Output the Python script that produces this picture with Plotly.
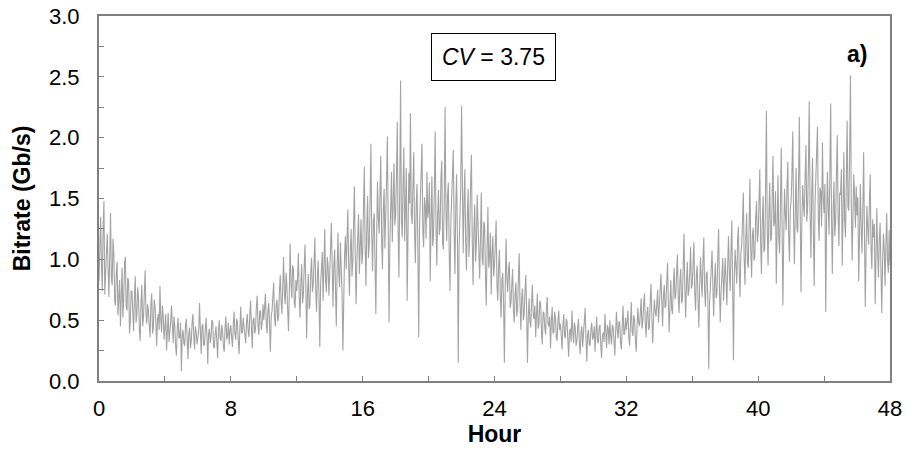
import plotly.graph_objects as go

step_hours = 0.05
bitrate = [
    0.82, 1.12, 1.35, 0.95, 0.74, 1.26, 1.48, 0.71, 0.88, 1.15, 1.21, 0.93, 0.69, 1.02, 1.38, 0.84, 0.79, 1.17, 1.05, 0.66,
    0.62, 0.89, 0.98, 0.54, 0.71, 0.83, 0.45, 0.77, 0.93, 0.52, 0.66, 0.97, 1.02, 0.61, 0.58, 0.85, 0.81, 0.39, 0.49, 0.74,
    0.74, 0.57, 0.41, 0.69, 0.86, 0.48, 0.55, 0.77, 0.68, 0.42, 0.33, 0.64, 0.79, 0.45, 0.52, 0.71, 0.91, 0.56, 0.47, 0.63,
    0.58, 0.46, 0.36, 0.63, 0.72, 0.39, 0.44, 0.67, 0.61, 0.48, 0.29, 0.51, 0.55, 0.42, 0.78, 0.50, 0.40, 0.62, 0.53, 0.34,
    0.47, 0.55, 0.25, 0.43, 0.56, 0.32, 0.38, 0.49, 0.62, 0.40, 0.31, 0.53, 0.45, 0.28, 0.21, 0.44, 0.52, 0.35, 0.36, 0.48,
    0.08, 0.37, 0.42, 0.31, 0.29, 0.46, 0.51, 0.34, 0.18, 0.39, 0.44, 0.27, 0.33, 0.48, 0.55, 0.36, 0.26, 0.45, 0.40, 0.30,
    0.35, 0.41, 0.64, 0.33, 0.22, 0.45, 0.47, 0.29, 0.30, 0.42, 0.52, 0.37, 0.14, 0.39, 0.43, 0.31, 0.36, 0.50, 0.49, 0.28,
    0.27, 0.39, 0.45, 0.32, 0.19, 0.41, 0.50, 0.35, 0.33, 0.46, 0.41, 0.28, 0.24, 0.44, 0.53, 0.34, 0.37, 0.48, 0.30, 0.42,
    0.46, 0.35, 0.28, 0.47, 0.57, 0.38, 0.34, 0.51, 0.49, 0.33, 0.22, 0.43, 0.61, 0.40, 0.39, 0.52, 0.45, 0.36, 0.31, 0.48,
    0.55, 0.41, 0.36, 0.54, 0.66, 0.44, 0.27, 0.50, 0.52, 0.39, 0.43, 0.61, 0.70, 0.46, 0.38, 0.57, 0.58, 0.42, 0.47, 0.63,
    0.50, 0.61, 0.72, 0.48, 0.39, 0.57, 0.64, 0.46, 0.24, 0.53, 0.58, 0.69, 0.81, 0.52, 0.45, 0.63, 0.67, 0.49, 0.53, 0.74,
    0.87, 0.66, 0.55, 0.78, 1.02, 0.71, 0.63, 0.89, 0.79, 0.58, 0.41, 0.74, 1.13, 0.80, 0.68, 0.95, 0.92, 0.64, 0.60, 0.83,
    0.74, 0.86, 1.05, 0.69, 0.52, 0.81, 0.96, 0.64, 0.70, 0.93, 1.12, 0.77, 0.35, 0.72, 0.88, 0.59, 0.62, 0.90, 1.01, 0.73,
    0.79, 0.97, 1.18, 0.75, 0.57, 0.86, 0.99, 0.68, 0.28, 0.80, 0.91, 1.06, 0.66, 0.89, 1.25, 0.82, 0.73, 1.02, 0.94, 0.70,
    0.84, 1.09, 1.30, 0.83, 0.61, 0.95, 1.08, 0.76, 0.45, 0.92, 1.22, 0.88, 0.77, 1.14, 0.98, 0.71, 0.25, 0.87, 1.03, 1.19,
    0.92, 1.16, 1.41, 0.94, 0.70, 1.07, 1.25, 0.86, 0.98, 1.29, 1.60, 1.02, 0.63, 0.99, 1.18, 1.37, 0.88, 1.11, 1.33, 0.96,
    1.05, 1.43, 1.76, 1.10, 0.78, 1.27, 1.52, 1.01, 1.12, 1.48, 1.95, 1.22, 0.90, 1.31, 1.38, 0.97, 0.55, 1.19, 1.64, 1.35,
    1.21, 1.54, 1.85, 1.16, 0.92, 1.40, 1.58, 1.09, 1.30, 1.66, 2.01, 1.25, 0.48, 1.13, 1.47, 1.72, 1.14, 1.39, 1.79, 1.28,
    1.36, 1.69, 2.13, 1.24, 0.85, 1.57, 2.47, 1.33, 1.18, 1.61, 1.92, 1.15, 1.42, 1.75, 0.66, 1.27, 1.71, 1.46, 2.20, 1.37,
    1.29, 1.60, 1.88, 1.21, 0.97, 1.45, 1.62, 1.08, 0.36, 1.26, 1.53, 1.80, 1.95, 1.23, 1.10, 1.51, 1.44, 1.17, 1.72, 1.34,
    1.40, 1.63, 0.82, 1.31, 1.68, 1.11, 1.19, 1.59, 2.05, 1.28, 0.95, 1.36, 1.57, 1.20, 1.26, 1.67, 1.81, 1.14, 1.08, 1.49,
    2.25, 1.41, 1.15, 1.52, 1.63, 1.06, 0.74, 1.30, 1.49, 1.77, 1.90, 1.22, 0.88, 1.44, 1.70, 1.18, 0.15, 1.09, 1.32, 1.58,
    2.26, 1.39, 1.05, 1.47, 1.74, 1.13, 0.91, 1.35, 1.58, 1.02, 1.21, 1.62, 1.86, 1.17, 0.79, 1.24, 1.45, 0.98, 1.12, 1.53,
    1.36, 1.07, 0.84, 1.25, 1.55, 1.01, 0.95, 1.31, 1.28, 0.88, 0.62, 1.10, 1.43, 0.93, 1.02, 1.22, 0.71, 1.05, 1.19, 0.86,
    0.95, 1.13, 1.32, 0.78, 0.66, 0.94, 1.08, 0.71, 0.52, 0.83, 0.89, 0.64, 0.15, 0.76, 1.17, 0.85, 0.73, 0.91, 0.98, 0.60,
    0.64, 0.79, 0.92, 0.57, 0.48, 0.72, 0.81, 0.53, 0.59, 0.84, 1.05, 0.63, 0.42, 0.68, 0.76, 0.50, 0.55, 0.74, 0.87, 0.58,
    0.15, 0.52, 0.68, 0.49, 0.44, 0.65, 0.79, 0.54, 0.51, 0.62, 0.36, 0.55, 0.72, 0.43, 0.47, 0.66, 0.63, 0.41, 0.30, 0.57,
    0.56, 0.44, 0.38, 0.59, 0.69, 0.47, 0.45, 0.53, 0.27, 0.49, 0.61, 0.39, 0.40, 0.57, 0.52, 0.36, 0.33, 0.50, 0.58, 0.42,
    0.47, 0.38, 0.26, 0.45, 0.55, 0.37, 0.35, 0.51, 0.49, 0.34, 0.20, 0.41, 0.43, 0.32, 0.58, 0.40, 0.31, 0.48, 0.44, 0.29,
    0.33, 0.44, 0.51, 0.31, 0.22, 0.40, 0.45, 0.28, 0.37, 0.49, 0.60, 0.35, 0.16, 0.38, 0.42, 0.30, 0.29, 0.43, 0.48, 0.34,
    0.36, 0.45, 0.24, 0.39, 0.53, 0.33, 0.31, 0.44, 0.46, 0.29, 0.19, 0.37, 0.40, 0.32, 0.55, 0.41, 0.27, 0.46, 0.43, 0.30,
    0.50, 0.37, 0.30, 0.46, 0.44, 0.33, 0.21, 0.40, 0.57, 0.42, 0.35, 0.49, 0.48, 0.31, 0.26, 0.45, 0.62, 0.38, 0.39, 0.52,
    0.42, 0.50, 0.58, 0.36, 0.29, 0.47, 0.65, 0.41, 0.37, 0.54, 0.51, 0.34, 0.24, 0.44, 0.60, 0.48, 0.45, 0.56, 0.68, 0.43,
    0.49, 0.63, 0.72, 0.47, 0.36, 0.55, 0.61, 0.42, 0.44, 0.66, 0.80, 0.52, 0.31, 0.50, 0.67, 0.57, 0.53, 0.64, 0.75, 0.48,
    0.58, 0.74, 0.88, 0.56, 0.45, 0.69, 0.79, 0.60, 0.62, 0.81, 0.97, 0.65, 0.40, 0.63, 0.83, 0.59, 0.55, 0.77, 0.93, 0.67,
    0.71, 0.89, 1.04, 0.68, 0.56, 0.82, 0.92, 0.64, 0.66, 0.95, 1.21, 0.77, 0.52, 0.80, 0.98, 0.70, 0.74, 0.91, 1.10, 0.76,
    0.79, 0.96, 1.14, 0.73, 0.58, 0.87, 0.95, 0.67, 0.44, 0.78, 1.02, 0.84, 0.69, 0.99, 1.18, 0.75, 0.61, 0.88, 0.90, 0.65,
    0.10, 0.63, 0.86, 0.92, 1.07, 0.70, 0.53, 0.81, 0.97, 0.68, 0.72, 1.03, 1.25, 0.77, 0.48, 0.74, 0.93, 1.01, 0.66, 0.89,
    1.01, 0.83, 0.62, 0.95, 1.19, 0.88, 0.74, 1.06, 1.32, 0.79, 0.17, 0.86, 1.08, 0.94, 0.80, 1.15, 1.27, 0.91, 0.69, 1.04,
    1.12, 1.31, 1.55, 1.00, 0.79, 1.17, 1.38, 0.97, 0.93, 1.28, 1.66, 1.09, 0.85, 1.20, 1.26, 0.99, 1.02, 1.34, 1.48, 1.14,
    1.21, 1.47, 1.74, 1.13, 0.88, 1.32, 1.52, 1.06, 1.09, 1.58, 2.22, 1.25, 0.95, 1.36, 1.63, 1.15, 1.17, 1.51, 1.85, 1.27,
    1.30, 1.56, 0.80, 1.23, 1.69, 1.18, 1.05, 1.44, 1.92, 1.29, 0.62, 1.16, 1.58, 1.37, 1.24, 1.61, 1.80, 1.20, 0.98, 1.42,
    1.48, 1.71, 2.05, 1.33, 0.96, 1.39, 1.75, 1.26, 1.22, 1.64, 2.17, 1.40, 0.73, 1.28, 1.61, 1.45, 1.35, 1.68, 1.94, 1.31,
    1.42, 1.77, 2.30, 1.38, 1.01, 1.53, 1.83, 1.21, 0.78, 1.46, 1.67, 1.89, 2.09, 1.34, 1.15, 1.59, 1.56, 1.27, 1.96, 1.50,
    1.38, 1.62, 0.57, 1.29, 1.72, 1.44, 1.20, 1.73, 2.28, 1.35, 0.88, 1.41, 1.64, 1.19, 1.30, 1.70, 2.02, 1.37, 1.11, 1.55,
    1.53, 1.74, 0.95, 1.36, 1.88, 1.31, 1.18, 1.65, 2.14, 1.43, 1.40, 1.86, 2.51, 1.49, 0.99, 1.32, 1.70, 1.52, 1.26, 1.60,
    1.36, 1.51, 0.82, 1.19, 1.62, 1.28, 1.05, 1.39, 1.88, 1.22, 0.61, 1.10, 1.44, 1.25, 1.12, 1.47, 1.70, 1.08, 0.92, 1.33,
    1.18, 1.29, 0.63, 1.02, 1.42, 1.06, 0.85, 1.16, 1.30, 0.93, 0.56, 0.97, 1.21, 1.09, 0.78, 1.12, 1.38, 0.99, 0.89, 1.24,
    0.95,
]
hours = [round(i * step_hours, 3) for i in range(len(bitrate))]

x_tickvals = [0, 4, 8, 12, 16, 20, 24, 28, 32, 36, 40, 44, 48]
x_ticktext = ["0", "", "8", "", "16", "", "24", "", "32", "", "40", "", "48"]
y_tickvals = [0, 0.25, 0.5, 0.75, 1.0, 1.25, 1.5, 1.75, 2.0, 2.25, 2.5, 2.75, 3.0]
y_ticktext = ["0.0", "", "0.5", "", "1.0", "", "1.5", "", "2.0", "", "2.5", "", "3.0"]

FONT = "Liberation Sans, Arial, sans-serif"
AXIS_COLOR = "#808080"
TICK_SIZE = 22
TITLE_SIZE = 23

fig = go.Figure()
fig.add_trace(go.Scatter(
    x=hours, y=bitrate, mode="lines",
    line=dict(color="#a3a3a3", width=1.1),
    showlegend=False, hoverinfo="skip",
))

axis_common = dict(
    showgrid=False, zeroline=False, showline=True, linecolor=AXIS_COLOR,
    linewidth=2, mirror=True, ticks="inside", ticklen=5, tickwidth=1,
    tickcolor=AXIS_COLOR, automargin=False, ticklabeloverflow="allow",
    tickfont=dict(family=FONT, size=TICK_SIZE, color="black"),
)

fig.update_xaxes(
    range=[0, 48], tickmode="array", tickvals=x_tickvals, ticktext=x_ticktext,
    ticklabelstandoff=7,
    title=dict(text="<b>Hour</b>", font=dict(family=FONT, size=TITLE_SIZE, color="black"), standoff=5),
    **axis_common,
)
fig.update_yaxes(
    range=[0, 3.0], tickmode="array", tickvals=y_tickvals, ticktext=y_ticktext,
    ticklabelstandoff=13,
    title=dict(text="<b>Bitrate (Gb/s)</b>", font=dict(family=FONT, size=TITLE_SIZE, color="black"), standoff=12),
    **axis_common,
)

fig.add_annotation(
    x=0.499, y=0.889, xref="paper", yref="paper", xanchor="center", yanchor="middle",
    text="<i>CV</i> = 3.75", showarrow=False,
    font=dict(family=FONT, size=23, color="black"),
    bordercolor="black", borderwidth=1, borderpad=10, bgcolor="white",
)
fig.add_annotation(
    x=0.958, y=0.896, xref="paper", yref="paper", xanchor="center", yanchor="middle",
    text="<b>a)</b>", showarrow=False,
    font=dict(family=FONT, size=TITLE_SIZE, color="black"),
)

fig.update_layout(
    width=906, height=452,
    margin=dict(l=99, r=16, t=16, b=71),
    paper_bgcolor="white", plot_bgcolor="white",
    font=dict(family=FONT),
)

# Remove the default page margin so the 906x452 figure fills the window.
fig.write_html(
    "out.html",
    config={"displayModeBar": False},
    post_script="document.body.style.margin='0';document.body.style.overflow='hidden';",
)
